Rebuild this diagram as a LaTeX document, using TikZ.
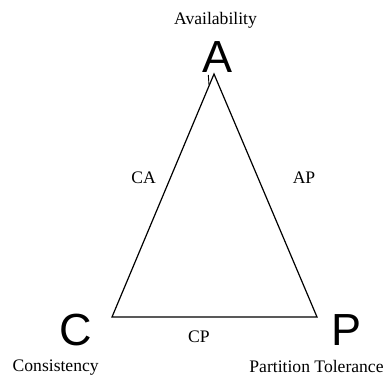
\documentclass[tikz,border=0pt]{standalone}
\usepackage{fontspec}
\setmainfont{Liberation Serif}
\newfontfamily\bigsans{Liberation Sans}
\begin{document}
\begin{tikzpicture}[x=1pt,y=-1pt,
  lbl/.style={anchor=base,inner sep=0pt,font=\fontsize{17.6}{20}\selectfont},
  big/.style={anchor=base,inner sep=0pt,font=\bigsans\fontsize{45}{50}\selectfont},
  edge/.style={draw=black,line width=1.2pt}]
\useasboundingbox (0,0) rectangle (387,376);
\coordinate (cA) at (214,74);
\coordinate (cC) at (112,317);
\coordinate (cP) at (317,317);
\coordinate (t1) at (209,85);
\coordinate (t2) at (208.3,75);
\draw[edge,line join=miter] (cC) -- (cA) -- (cP) -- cycle;
\draw[line width=0.9pt] (t1) -- (t2);
\node[lbl] (avail) at (215.5,24) {Availability};
\node[lbl] (cons) at (55.7,371) {Consistency};
\node[lbl] (part) at (316.5,372) {Partition Tolerance};
\node[lbl] (ca) at (143.5,183) {CA};
\node[lbl] (ap) at (304,183) {AP};
\node[lbl] (cp) at (199,342) {CP};
\node[big] (A) at (217.5,72) {A};
\node[big] (C) at (75.4,345.5) {C};
\node[big] (P) at (346.7,345.5) {P};
\end{tikzpicture}
\end{document}
